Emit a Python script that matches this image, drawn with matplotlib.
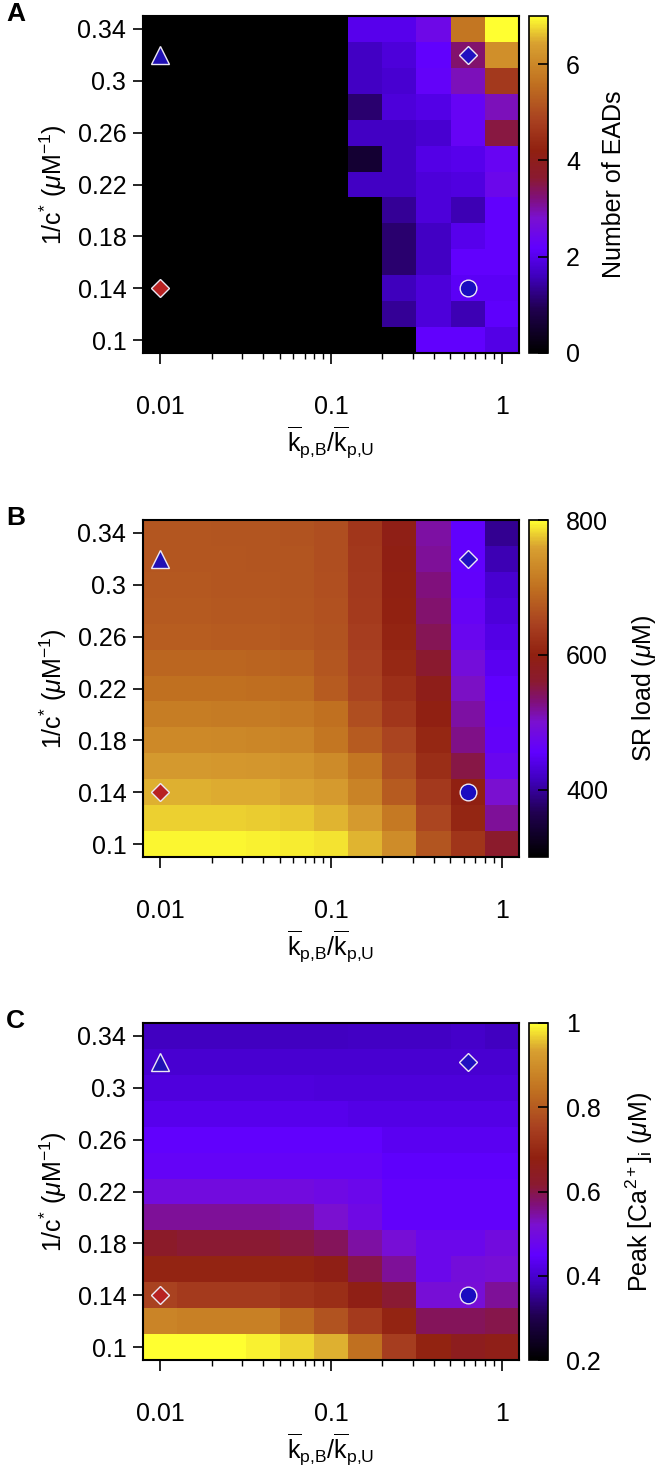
import numpy as np
import matplotlib
matplotlib.use('Agg')
import matplotlib.pyplot as plt
from matplotlib.colors import LinearSegmentedColormap
from matplotlib.ticker import FixedLocator, NullFormatter

plt.rcParams['font.family'] = ['Liberation Sans', 'DejaVu Sans']
plt.rcParams['mathtext.fontset'] = 'custom'
plt.rcParams['mathtext.rm'] = 'Liberation Sans'
plt.rcParams['mathtext.it'] = 'Liberation Sans:italic'
plt.rcParams['mathtext.bf'] = 'Liberation Sans:bold'

# grid: kp,B/kp,U on a log scale, 1/c* linear
log_kp = [-2.0, -1.8, -1.6, -1.4, -1.2, -1.0, -0.8, -0.6, -0.4, -0.2, 0.0]
inv_c = [0.34, 0.32, 0.30, 0.28, 0.26, 0.24, 0.22, 0.20, 0.18, 0.16, 0.14, 0.12, 0.10]

# rows listed from top (0.34) to bottom (0.10)
eads = [
    [0, 0, 0, 0, 0, 0, 2.0, 2.0, 2.5, 5.7, 7.0],
    [0, 0, 0, 0, 0, 0, 1.65, 1.85, 2.2, 3.3, 6.15],
    [0, 0, 0, 0, 0, 0, 1.65, 1.75, 2.25, 2.9, 4.7],
    [0, 0, 0, 0, 0, 0, 1.1, 1.85, 1.95, 2.3, 2.9],
    [0, 0, 0, 0, 0, 0, 1.65, 1.65, 1.75, 2.3, 3.55],
    [0, 0, 0, 0, 0, 0, 0.6, 1.65, 1.95, 2.0, 2.35],
    [0, 0, 0, 0, 0, 0, 1.65, 1.65, 1.85, 1.9, 2.45],
    [0, 0, 0, 0, 0, 0, 0, 1.35, 1.85, 1.55, 2.2],
    [0, 0, 0, 0, 0, 0, 0, 1.1, 1.65, 2.0, 2.2],
    [0, 0, 0, 0, 0, 0, 0, 1.1, 1.65, 2.2, 2.2],
    [0, 0, 0, 0, 0, 0, 0, 1.6, 1.85, 2.1, 2.1],
    [0, 0, 0, 0, 0, 0, 0, 1.35, 1.85, 1.55, 2.15],
    [0, 0, 0, 0, 0, 0, 0, 0, 2.2, 2.2, 1.95],
]

sr_load = [
    [670, 670, 669, 668, 667, 660, 632, 592, 515, 458, 395],
    [671, 671, 670, 669, 668, 661, 633, 595, 520, 458, 410],
    [672, 672, 671, 670, 669, 662, 635, 598, 530, 460, 425],
    [674, 674, 673, 672, 671, 664, 637, 602, 535, 465, 432],
    [677, 677, 676, 675, 673, 666, 640, 606, 545, 470, 440],
    [688, 688, 687, 686, 683, 670, 644, 612, 560, 490, 448],
    [700, 700, 699, 698, 695, 676, 648, 622, 588, 505, 455],
    [715, 715, 714, 713, 710, 700, 660, 632, 598, 515, 458],
    [730, 730, 729, 727, 724, 708, 675, 648, 610, 525, 462],
    [750, 750, 749, 747, 744, 732, 708, 660, 620, 550, 470],
    [765, 765, 764, 763, 760, 752, 722, 675, 635, 598, 500],
    [780, 780, 779, 778, 775, 768, 752, 712, 650, 608, 520],
    [796, 796, 795, 793, 791, 788, 768, 735, 668, 630, 565],
]

peak_ca = [
    [0.385, 0.385, 0.385, 0.385, 0.385, 0.385, 0.39, 0.39, 0.39, 0.395, 0.385],
    [0.40, 0.40, 0.40, 0.40, 0.40, 0.40, 0.40, 0.40, 0.40, 0.40, 0.40],
    [0.415, 0.415, 0.415, 0.415, 0.415, 0.41, 0.41, 0.41, 0.41, 0.41, 0.41],
    [0.43, 0.43, 0.43, 0.43, 0.43, 0.43, 0.425, 0.425, 0.425, 0.425, 0.425],
    [0.45, 0.45, 0.45, 0.45, 0.45, 0.45, 0.45, 0.435, 0.435, 0.435, 0.435],
    [0.46, 0.46, 0.46, 0.46, 0.46, 0.46, 0.46, 0.445, 0.445, 0.445, 0.445],
    [0.50, 0.50, 0.50, 0.50, 0.50, 0.49, 0.48, 0.455, 0.455, 0.455, 0.455],
    [0.55, 0.55, 0.55, 0.55, 0.545, 0.52, 0.49, 0.455, 0.455, 0.455, 0.455],
    [0.63, 0.615, 0.615, 0.615, 0.605, 0.59, 0.545, 0.51, 0.48, 0.48, 0.50],
    [0.69, 0.69, 0.69, 0.69, 0.69, 0.67, 0.60, 0.55, 0.48, 0.505, 0.51],
    [0.755, 0.74, 0.74, 0.74, 0.725, 0.71, 0.67, 0.615, 0.51, 0.51, 0.55],
    [0.88, 0.87, 0.87, 0.87, 0.83, 0.785, 0.74, 0.69, 0.59, 0.59, 0.60],
    [1.0, 1.0, 1.0, 0.99, 0.97, 0.945, 0.84, 0.745, 0.685, 0.65, 0.665],
]

# special parameter points
pt_x = [0.01, 0.01, 0.631, 0.631]
pt_y = [0.32, 0.14, 0.32, 0.14]
pt_marker = ['^', 'D', 'D', 'o']
pt_color = ['#2010b4', '#b82222', '#2010c0', '#1a0cc0']
pt_size = [13, 9, 9, 12]

panels = [
    ('A', eads, 0, 7, [0, 2, 4, 6], ['0', '2', '4', '6'], 'Number of EADs'),
    ('B', sr_load, 300, 800, [400, 600, 800], ['400', '600', '800'], r'SR load ($\mu$M)'),
    ('C', peak_ca, 0.2, 1.0, [0.2, 0.4, 0.6, 0.8, 1.0], ['0.2', '0.4', '0.6', '0.8', '1'],
     r'Peak [Ca$^{2+}$]$_\mathrm{i}$ ($\mu$M)'),
]

cmap = LinearSegmentedColormap.from_list('eadmap', [
    (0.00, '#000000'),
    (0.13, '#200050'),
    (0.23, '#4000c0'),
    (0.31, '#6000ff'),
    (0.40, '#7a10d0'),
    (0.46, '#80107a'),
    (0.52, '#8a1a30'),
    (0.60, '#902010'),
    (0.69, '#a84020'),
    (0.80, '#c07020'),
    (0.92, '#d8a030'),
    (1.00, '#ffff30'),
])

step = 0.2
x_edges = 10 ** (np.array(log_kp[0] - step / 2) + step * np.arange(len(log_kp) + 1))
yc = np.array(inv_c[::-1])
y_edges = np.concatenate([yc - 0.01, [yc[-1] + 0.01]])

minor_x = [m * d for d in (0.01, 0.1) for m in range(2, 10)]

fig = plt.figure(figsize=(6.64, 14.75), dpi=100)
W, H = 664.0, 1475.0
tops = [16, 520, 1023]
fs = 18

for (letter, data, vmin, vmax, cticks, clabels, clabel), top in zip(panels, tops):
    ax = fig.add_axes([143 / W, 1 - (top + 337) / H, 376 / W, 337 / H])
    Z = np.array(data)[::-1]
    mesh = ax.pcolormesh(x_edges, y_edges, Z, cmap=cmap, vmin=vmin, vmax=vmax,
                         shading='flat', antialiased=False, linewidth=0)
    for i in range(len(pt_x)):
        ax.plot(pt_x[i], pt_y[i], pt_marker[i], ms=pt_size[i], color=pt_color[i],
                mec='#ece8f4', mew=1.0)
    ax.set_xscale('log')
    ax.set_xlim(x_edges[0], x_edges[-1])
    ax.set_ylim(y_edges[0], y_edges[-1])
    ax.set_xticks([0.01, 0.1, 1])
    ax.set_xticklabels(['0.01', '0.1', '1'])
    ax.xaxis.set_minor_locator(FixedLocator(minor_x))
    ax.xaxis.set_minor_formatter(NullFormatter())
    ax.set_yticks([0.1, 0.14, 0.18, 0.22, 0.26, 0.3, 0.34])
    ax.set_yticklabels(['0.1', '0.14', '0.18', '0.22', '0.26', '0.3', '0.34'])
    ax.tick_params(axis='x', which='major', direction='out', length=8, width=1.2,
                   pad=22, labelsize=fs)
    ax.tick_params(axis='x', which='minor', direction='out', length=4, width=1.0)
    ax.tick_params(axis='y', direction='out', length=7, width=1.2, pad=5, labelsize=fs)
    for sp in ax.spines.values():
        sp.set_linewidth(1.5)
    ax.set_xlabel(r'$\overline{\mathrm{k}}_{\mathrm{p{,}B}}/\overline{\mathrm{k}}_{\mathrm{p{,}U}}$',
                  fontsize=fs, labelpad=4)
    ax.set_ylabel(r'1/c$^{*}$ ($\mu$M$^{-1}$)', fontsize=fs, labelpad=6)

    cax = fig.add_axes([529 / W, 1 - (top + 337) / H, 19 / W, 337 / H])
    cb = fig.colorbar(mesh, cax=cax)
    cb.set_ticks(cticks)
    cb.set_ticklabels(clabels)
    cax.tick_params(direction='in', length=7, width=1.2, labelsize=fs, pad=13)
    cb.outline.set_linewidth(1.2)
    cb.set_label(clabel, fontsize=fs, labelpad=16)

    fig.text(6 / W, 1 - (top - 14) / H, letter, fontsize=19, fontweight='bold',
             va='top', ha='left')

fig.savefig('out.png', dpi=100)
